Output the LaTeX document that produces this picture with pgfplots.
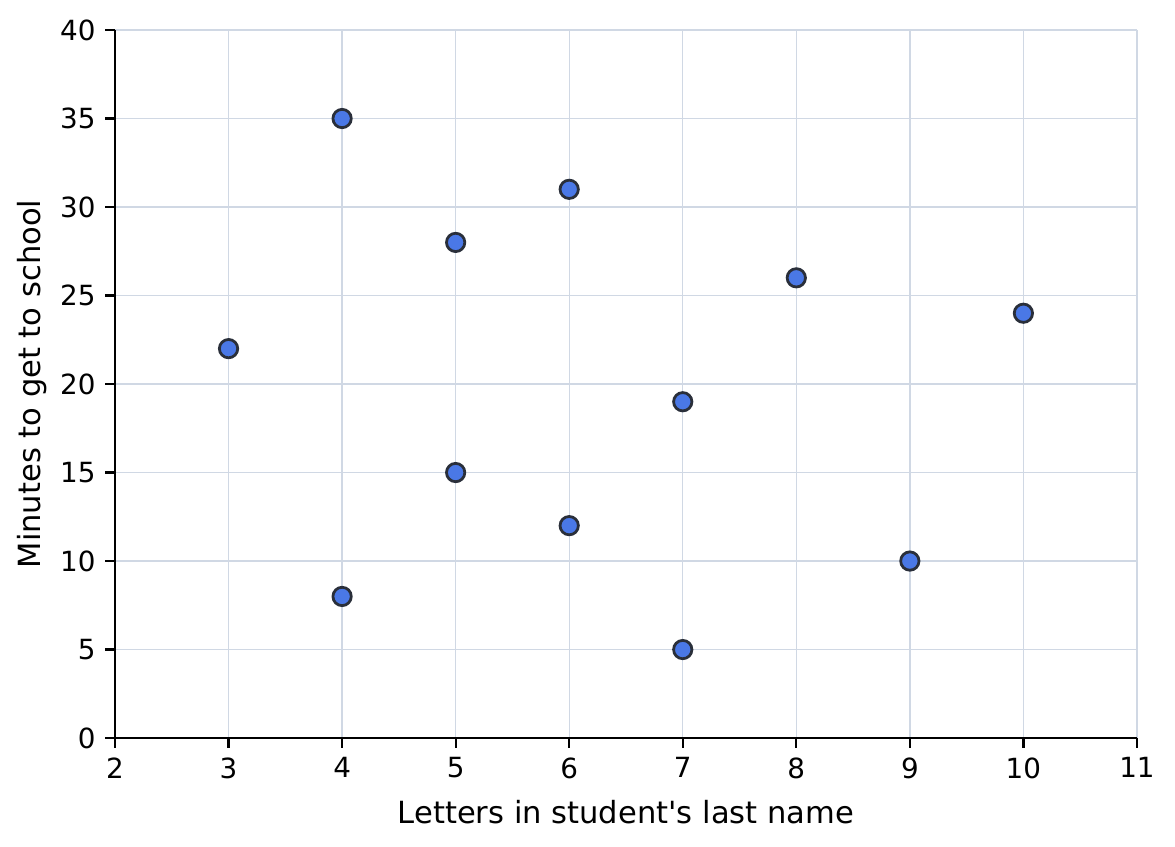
\documentclass[border=0pt]{standalone}
\usepackage{pgfplots}
\pgfplotsset{compat=1.18}
\usepackage{fontspec}
\setmainfont{DejaVu Sans}
\definecolor{dotfill}{HTML}{4A78E6}
\definecolor{dotedge}{HTML}{2A2F3A}
\definecolor{gridc}{HTML}{D0D8E4}
\begin{document}
\begin{tikzpicture}
\begin{axis}[
  scale only axis,
  width=367.9pt, height=254.9pt,
  xmin=2, xmax=11, ymin=0, ymax=40,
  xtick={2,...,11}, ytick={0,5,...,40},
  axis lines*=left,
  axis line style={black, line width=0.8pt},
  tick style={black, line width=0.8pt},
  tick align=outside,
  major tick length=3.5pt,
  xmajorgrids, ymajorgrids,
  grid style={gridc, line width=0.5pt},
  tick label style={font=\fontsize{10}{12}\selectfont},
  label style={font=\fontsize{11}{13}\selectfont},
  /pgf/number format/assume math mode=true,
  xlabel={Letters in student\textquotesingle s last name},
  ylabel={Minutes to get to school},
  xlabel style={yshift=-1pt},
  ylabel style={yshift=-2pt},
  clip=false,
]
\addplot[only marks, mark=*, mark size=3.3pt,
  mark options={fill=dotfill, draw=dotedge, line width=1pt}]
coordinates {
  (3,22) (4,35) (4,8) (5,28) (5,15) (6,31) (6,12)
  (7,19) (7,5) (8,26) (9,10) (10,24)
};
\end{axis}
\pgfresetboundingbox
\path (current axis.south west) ++(-41.4pt,-38.9pt) rectangle ([shift={(13.7pt,10.8pt)}]current axis.north east);
\end{tikzpicture}
\end{document}
